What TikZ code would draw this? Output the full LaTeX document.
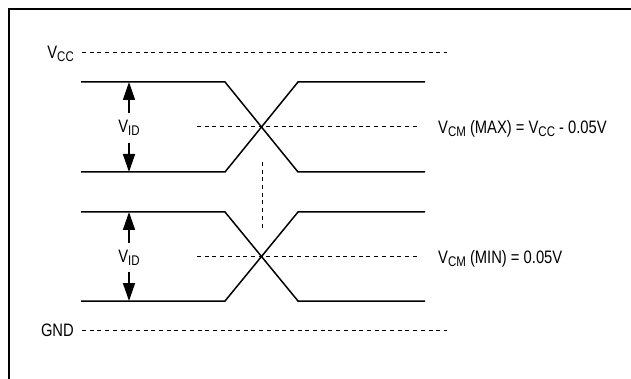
\documentclass[tikz,border=0pt]{standalone}
\usepackage{fontspec}
\setmainfont{Liberation Sans}[FakeStretch=0.82]
\usepackage{tikz}
\usetikzlibrary{arrows.meta}

\newcommand{\lo}[1]{\raisebox{-0.3ex}{\fontsize{14}{15}\selectfont #1}}

\tikzset{
  sig/.style={line width=1.5pt},
  lvl/.style={line width=1pt, dash pattern=on 4pt off 3.7pt},
  lbl/.style={font=\fontsize{18}{20}\selectfont, inner sep=0pt},
  vid/.style={lbl, minimum height=29pt},
  span/.style={line width=1.6pt, -{Triangle[length=18pt,width=12pt]}}
}

\begin{document}
\begin{tikzpicture}[x=1pt,y=-1pt]

\useasboundingbox (0,0) rectangle (631,379);

% frame
\draw [line width=2pt] (9,381) -- (9,9) -- (633,9);

% supply levels
\coordinate (vccL) at (82,53);
\coordinate (vccR) at (447,53);
\coordinate (gndL) at (82,330);
\coordinate (gndR) at (447,330);

\node [lbl, anchor=east] (vcc) at (74,54) {V\lo{CC}};
\node [lbl, anchor=east] (gnd) at (74,330) {GND};

\draw [lvl] (vccL) -- (vccR);
\draw [lvl] (gndL) -- (gndR);

% the two crossings: top level, bottom level, name
\foreach \t/\b/\n in {82/172/hi, 212/301/lo}
{
    \coordinate (\n tl) at (81,\t);
    \coordinate (\n bl) at (81,\b);
    \coordinate (\n tr) at (425,\t);
    \coordinate (\n br) at (425,\b);

    \draw [sig] (\n tl) -- (225,\t) -- (298,\b) -- (\n br);
    \draw [sig] (\n bl) -- (225,\b) -- (298,\t) -- (\n tr);

    \coordinate (\n m) at (197,{(\t+\b)/2});
    \coordinate (\n e) at (420,{(\t+\b)/2});
    \draw [lvl] (\n m) -- (\n e);

    \coordinate (\n up) at (129,\t);
    \coordinate (\n dn) at (129,\b);
    \node [vid] (\n vid) at (129,{(\t+\b)/2+1}) {V\lo{ID}};
    \draw [span] (\n vid.north) -- (\n up);
    \draw [span] (\n vid.south) -- (\n dn);
}

\draw [lvl] (262,162) -- (262,230);

\node [lbl, anchor=west] (cmmax) at (438,129) {V\lo{CM} (MAX) = V\lo{CC} - 0.05V};
\node [lbl, anchor=west] (cmmin) at (438,259) {V\lo{CM} (MIN) = 0.05V};

\end{tikzpicture}
\end{document}
